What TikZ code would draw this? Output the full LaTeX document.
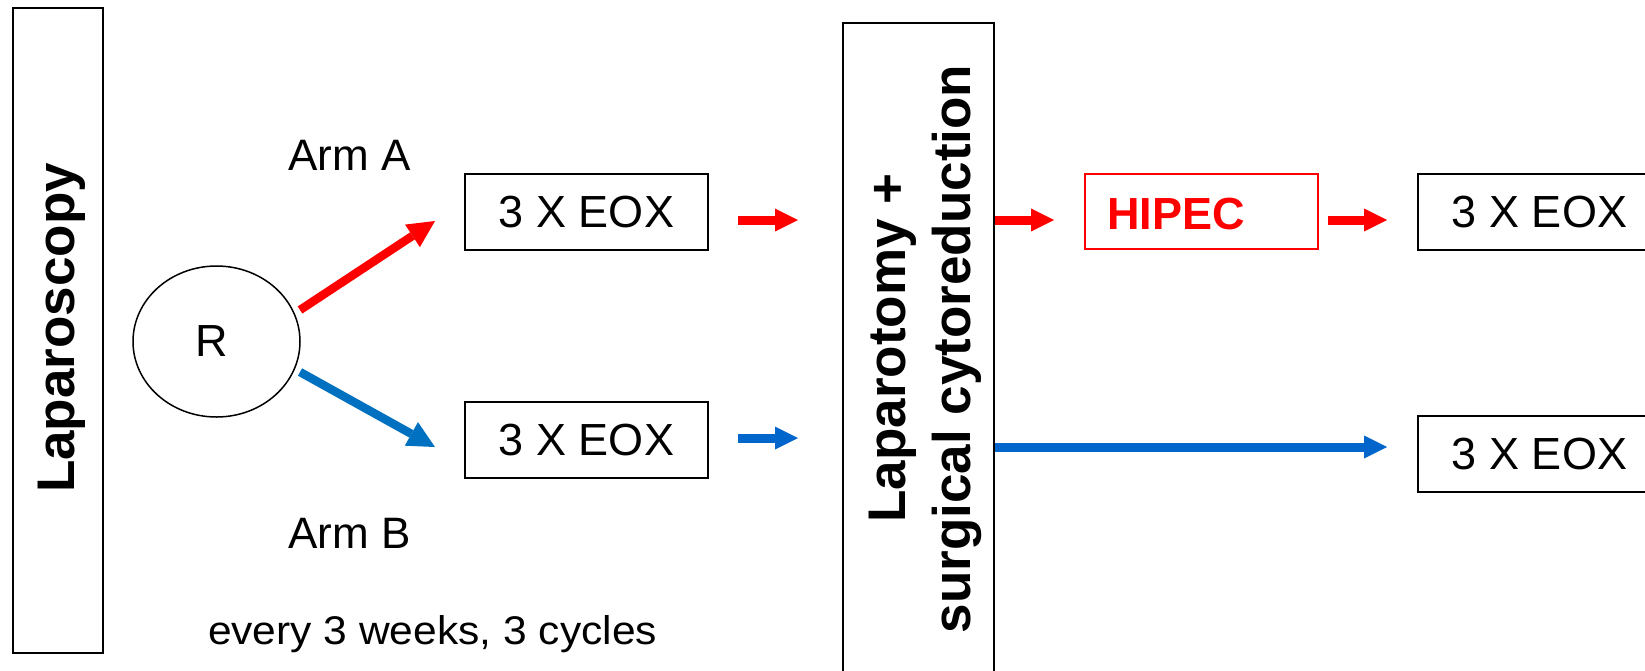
\documentclass[tikz,border=0pt]{standalone}
\usepackage{fontspec}
\usepackage{graphicx}
\setmainfont{Liberation Sans}
\usetikzlibrary{arrows.meta,shapes.geometric}
\definecolor{myred}{HTML}{FF0000}
\definecolor{blueA}{HTML}{0070C0}
\definecolor{blueB}{HTML}{0066CC}
\begin{document}
\begin{tikzpicture}[x=1pt,y=-1pt,
  box/.style={draw=black, line width=2pt, minimum width=243pt, minimum height=76pt, inner sep=0pt, font=\fontsize{45}{54}\selectfont},
  tall/.style={draw=black, line width=2pt, inner sep=0pt},
  big/.style={font=\fontsize{53}{65}\selectfont\bfseries, rotate=90, anchor=base, inner sep=0pt},
  lbl/.style={font=\fontsize{44}{53}\selectfont, inner sep=0pt},
  harr/.style={line width=9pt, -{Triangle[length=23pt,width=23pt,line width=0pt]}},
  darr/.style={line width=8.5pt, -{Triangle[length=27pt,width=27pt,line width=0pt]}},
]
\useasboundingbox (0,0) rectangle (1645,670);

% left column
\node[tall, minimum width=90pt, minimum height=645pt] (lapbox) at (57.5,330) {};
\node[big] (laptext) at (74,328) {Laparoscopy};

\node[ellipse, draw=black, line width=1.5pt, minimum width=167pt, minimum height=151pt, inner sep=0pt, font=\fontsize{45}{54}\selectfont] (R) at (216.5,341.5) {\kern-9pt R};

\node[lbl] (armA) at (349.5,155) {Arm A};
\node[lbl] (armB) at (349.5,533) {Arm B};

\node[box] (eoxA) at (586.5,212) {3 X EOX};
\node[box] (eoxB) at (586.5,440) {3 X EOX};

\node[inner sep=0pt, anchor=base, font=\fontsize{40}{48}\selectfont] (note) at (432.5,644) {\scalebox{1.063}[1]{every 3 weeks, 3 cycles}};

% middle column
\node[tall, minimum width=151pt, minimum height=677pt] (lapbig) at (918.5,361.5) {};
\node[big] (lt1) at (905,348) {Laparotomy +};
\node[big] (lt2) at (970,349) {surgical cytoreduction};

\node[box, draw=myred, minimum width=233pt, minimum height=75pt] (hipec) at (1201.5,211.5) {};
\node[anchor=base west, inner sep=0pt, text=myred, font=\fontsize{45}{54}\selectfont\bfseries] (hipectext) at (1107,229) {HIPEC};

% right column
\node[box] (eoxC) at (1539.5,212) {3 X EOX};
\node[box] (eoxD) at (1539.5,454) {3 X EOX};

% connector ends
\coordinate (rA) at (300,310);
\coordinate (tA) at (435,221);
\coordinate (rB) at (300,372);
\coordinate (tB) at (435,447);
\coordinate (a1s) at (738,220);
\coordinate (a1e) at (798,220);
\coordinate (b1s) at (738,438);
\coordinate (b1e) at (798,438);
\coordinate (a2s) at (995,220);
\coordinate (a2e) at (1054,220);
\coordinate (a3s) at (1328,220);
\coordinate (a3e) at (1387,220);
\coordinate (b2s) at (995,447);
\coordinate (b2e) at (1387,447);

\draw[darr, myred] (rA) -- (tA);
\draw[darr, blueA] (rB) -- (tB);
\draw[harr, myred] (a1s) -- (a1e);
\draw[harr, blueB] (b1s) -- (b1e);
\draw[harr, myred] (a2s) -- (a2e);
\draw[harr, myred] (a3s) -- (a3e);
\draw[harr, blueB] (b2s) -- (b2e);
\end{tikzpicture}
\end{document}
